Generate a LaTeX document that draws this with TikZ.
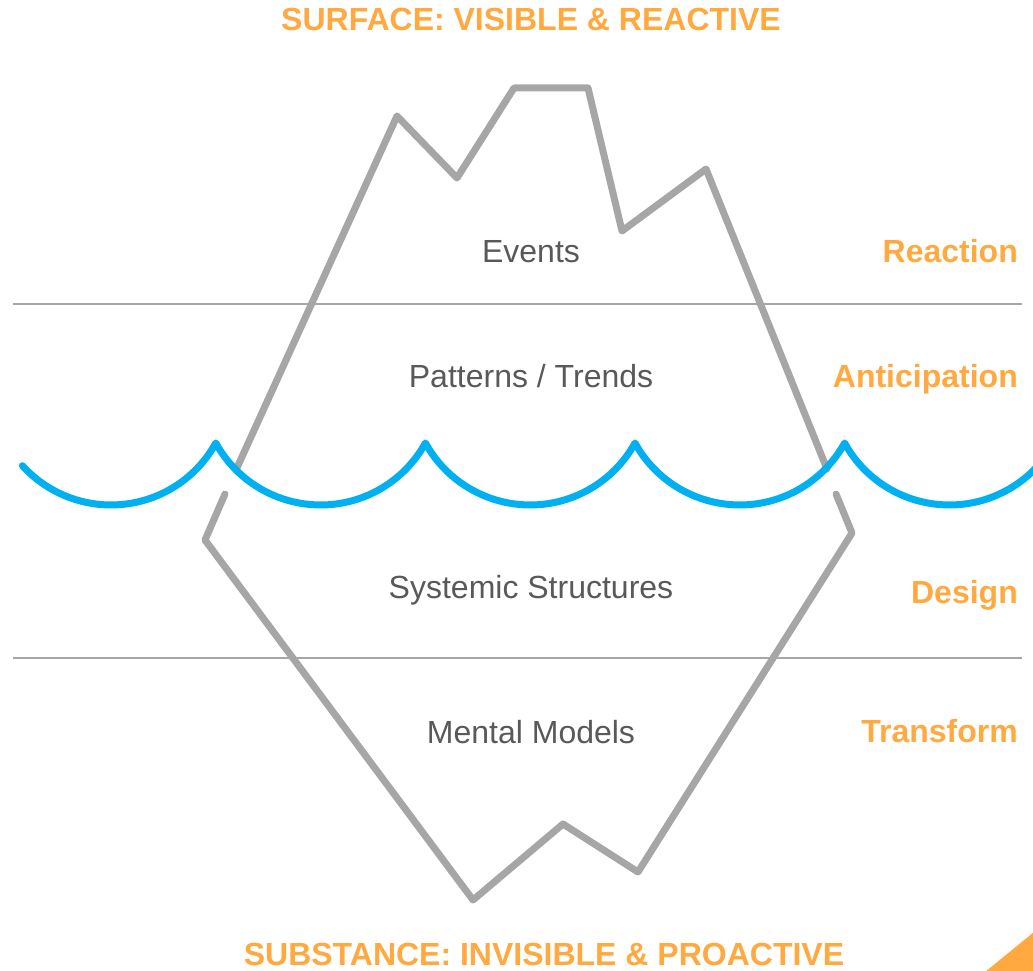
\documentclass[tikz,border=0pt]{standalone}
\usepackage{fontspec}
\setmainfont{Liberation Sans}
\usepackage{tikz}
\definecolor{bergGray}{RGB}{166,166,166}
\definecolor{seaBlue}{RGB}{0,176,240}
\definecolor{tagOrange}{RGB}{255,169,64}
\definecolor{textGray}{RGB}{89,89,89}
\begin{document}
\begin{tikzpicture}[x=1pt, y=-1pt,
	berg/.style={draw=bergGray, line width=7pt, line cap=round, line join=round},
	sealine/.style={draw=seaBlue, line width=7pt, line cap=round, line join=round},
	level/.style={draw=bergGray, line width=2pt},
	layer/.style={anchor=base, inner sep=0pt, text=textGray, font=\fontsize{32}{36}\selectfont},
	tag/.style={anchor=base east, inner sep=0pt, text=tagOrange, font=\fontsize{32}{36}\selectfont\bfseries},
	heading/.style={anchor=base, inner sep=0pt, text=tagOrange, font=\fontsize{32}{36}\selectfont\bfseries}]
		%%%%% START %%%%%
		\useasboundingbox (0, 0) rectangle (1033, 971);
		
		\draw[level] (13, 304) -- (1022, 304);
		\draw[level] (13, 658) -- (1022, 658);
		
		% tip above the water
		\draw[berg] (236, 470) -- (397, 116) -- (457, 178) -- (514, 88) -- (588, 88)
			-- (622, 231) -- (706, 169) -- (827, 469);
		% bulk below the water
		\draw[berg] (225, 494) -- (205, 540) -- (473, 900) -- (563, 824)
			-- (638, 872) -- (852, 533) -- (836, 494);
		
		\draw[sealine] (22.4, 465.7) arc[start angle=137.8, end angle=28.8, radius=119.6]
			arc[start angle=151.2, end angle=28.8, radius=119.6]
			arc[start angle=151.2, end angle=28.8, radius=119.6]
			arc[start angle=151.2, end angle=28.8, radius=119.6]
			arc[start angle=151.2, end angle=35, radius=119.6];
		
		\node[heading] (surface) at (531, 31) {SURFACE: VISIBLE \& REACTIVE};
		\node[heading] (substance) at (544, 965) {SUBSTANCE: INVISIBLE \& PROACTIVE};
		
		\node[layer] (events) at (531, 262) {Events};
		\node[layer] (patterns) at (531, 387) {Patterns / Trends};
		\node[layer] (structures) at (531, 598) {Systemic Structures};
		\node[layer] (models) at (531, 743) {Mental Models};
		
		\node[tag] (reaction) at (1018, 262) {Reaction};
		\node[tag] (anticipation) at (1018, 387) {Anticipation};
		\node[tag] (design) at (1018, 603) {Design};
		\node[tag] (transform) at (1018, 742) {Transform};
		
		\fill[tagOrange] (985, 972) -- (1034, 932) -- (1034, 972) -- cycle;
		%%%%% END %%%%%
	\end{tikzpicture}
\end{document}
